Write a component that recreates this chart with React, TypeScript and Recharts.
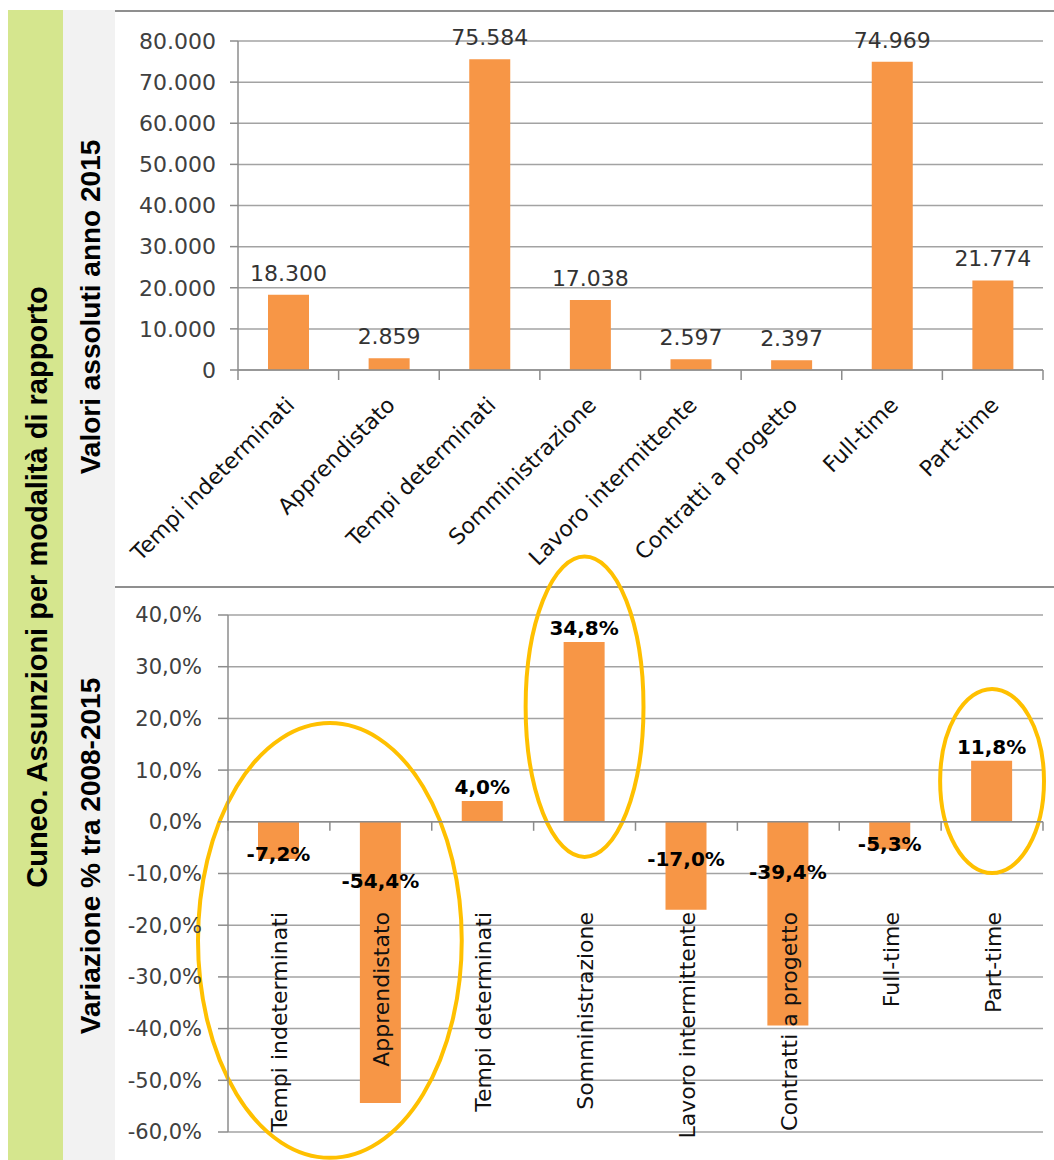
import React from 'react';
import {
  BarChart,
  Bar,
  XAxis,
  YAxis,
  CartesianGrid,
  LabelList,
  ReferenceLine,
  ReferenceArea,
} from 'recharts';

// ---------- DATA ----------
const categories = [
  'Tempi indeterminati',
  'Apprendistato',
  'Tempi determinati',
  'Somministrazione',
  'Lavoro intermittente',
  'Contratti a progetto',
  'Full-time',
  'Part-time',
];
const valori2015 = [18300, 2859, 75584, 17038, 2597, 2397, 74969, 21774];
const variazione = [-7.2, -54.4, 4.0, 34.8, -17.0, -39.4, -5.3, 11.8];
const ticksValori = [0, 10000, 20000, 30000, 40000, 50000, 60000, 70000, 80000];
const ticksVariazione = [-60, -50, -40, -30, -20, -10, 0, 10, 20, 30, 40];

const titolo = 'Cuneo. Assunzioni per modalità di rapporto';
const titoloTop = 'Valori assoluti anno 2015';
const titoloBottom = 'Variazione % tra 2008-2015';

// highlighted groups (yellow ellipses), in data units
const evidenziati = [
  { x1: 'Tempi indeterminati', x2: 'Apprendistato', y1: -65, y2: 19.1, pad: 30 },
  { x1: 'Somministrazione', x2: 'Somministrazione', y1: -6.8, y2: 51.3, pad: 8 },
  { x1: 'Part-time', x2: 'Part-time', y1: -9.9, y2: 25.7, pad: 1 },
];

const topData = categories.map((name, i) => ({ name, value: valori2015[i] }));
const botData = categories.map((name, i) => ({ name, value: variazione[i] }));

// ---------- STYLE ----------
const ORANGE = '#F79646';
const GRID = '#a3a3a3';
const AXIS = '#8c8c8c';
const FONT = '"DejaVu Sans", sans-serif';
const TITLE_FONT = '"Liberation Sans", Arial, sans-serif';

const fmtThousands = (v: number) =>
  String(Math.round(v)).replace(/\B(?=(\d{3})+(?!\d))/g, '.');
const fmtPct = (v: number) => v.toFixed(1).replace('.', ',') + '%';

// zero axis line with tick marks between categories
const ZeroAxis = (props: any) => {
  const { x1, y1, x2 } = props;
  const n = categories.length;
  const step = (x2 - x1) / n;
  const marks = [];
  for (let i = 0; i <= n; i++) {
    const x = x1 + i * step;
    marks.push(
      <line key={i} x1={x} x2={x} y1={y1} y2={y1 + props.tickLen} stroke={AXIS} strokeWidth={1.5} />
    );
  }
  return (
    <g>
      <line x1={x1} x2={x2} y1={y1} y2={y1} stroke={AXIS} strokeWidth={1.5} />
      {marks}
    </g>
  );
};

const TopTick = (props: any) => {
  const { x, y, payload } = props;
  const ax = x + 2;
  const ay = y + 31;
  return (
    <text
      x={ax}
      y={ay}
      dy="0.35em"
      textAnchor="end"
      transform={`rotate(-45, ${ax}, ${ay})`}
      fill="#111"
      fontSize={22}
      fontFamily={FONT}
    >
      {payload.value}
    </text>
  );
};

const BottomTick = (props: any) => {
  const { x, y, payload } = props;
  const ax = x + 1;
  const ay = y - 220;
  return (
    <text
      x={ax}
      y={ay}
      textAnchor="end"
      dominantBaseline="central"
      transform={`rotate(-90, ${ax}, ${ay})`}
      fill="#111"
      fontSize={22}
      fontFamily={FONT}
    >
      {payload.value}
    </text>
  );
};

const PctLabel = (props: any) => {
  const vb = props.viewBox || props;
  const x = vb.x ?? props.x;
  const y = vb.y ?? props.y;
  const width = vb.width ?? props.width;
  const height = vb.height ?? props.height;
  const value = Number(props.value);
  const top = Math.min(y, y + height);
  const bottom = Math.max(y, y + height);
  const h = bottom - top;
  const cx = x + width / 2;
  let cy;
  if (value >= 0) {
    cy = top - 14;
  } else {
    cy = top + Math.min(h - 5, 28 + 0.11 * h);
  }
  return (
    <text
      x={cx}
      y={cy}
      textAnchor="middle"
      dominantBaseline="central"
      fill="#000"
      fontWeight="bold"
      fontSize={20}
      fontFamily={FONT}
    >
      {fmtPct(value)}
    </text>
  );
};

const EllipseShape = (pad: number) => (props: any) => {
  const { x, y, width, height } = props;
  return (
    <ellipse
      cx={x + width / 2}
      cy={y + height / 2}
      rx={Math.abs(width) / 2 + pad}
      ry={Math.abs(height) / 2}
      fill="none"
      stroke="#FFC000"
      strokeWidth={4}
    />
  );
};

export default function App() {
  return (
    <div
      style={{
        position: 'absolute',
        left: 0,
        top: 0,
        width: 1054,
        height: 1160,
        background: '#fff',
        overflow: 'hidden',
      }}
    >
      <style>{'.bottom-chart svg{overflow:visible}'}</style>

      {/* left title strips */}
      <svg width={115} height={1160} style={{ position: 'absolute', left: 0, top: 0 }}>
        <rect x={8} y={10} width={55} height={1150} fill="#d5e68e" />
        <rect x={63} y={10} width={52} height={1150} fill="#f2f2f2" />
        <text
          x={47}
          y={587}
          textAnchor="middle"
          transform="rotate(-90, 47, 587)"
          fontFamily={TITLE_FONT}
          fontWeight="bold"
          fontSize={29}
          fill="#000"
        >
          {titolo}
        </text>
        <text
          x={100}
          y={307}
          textAnchor="middle"
          transform="rotate(-90, 100, 307)"
          fontFamily={TITLE_FONT}
          fontWeight="bold"
          fontSize={28}
          fill="#000"
        >
          {titoloTop}
        </text>
        <text
          x={100}
          y={856}
          textAnchor="middle"
          transform="rotate(-90, 100, 856)"
          fontFamily={TITLE_FONT}
          fontWeight="bold"
          fontSize={28}
          fill="#000"
        >
          {titoloBottom}
        </text>
      </svg>

      {/* separators */}
      <div style={{ position: 'absolute', left: 115, top: 10, width: 939, height: 2, background: '#8f8f8f' }} />

      {/* top chart */}
      <div style={{ position: 'absolute', left: 115, top: 10 }}>
        <BarChart
          width={939}
          height={577}
          data={topData}
          margin={{ top: 31, right: 11, bottom: 17, left: 0 }}
        >
          <CartesianGrid vertical={false} stroke={GRID} strokeWidth={1.5} />
          <YAxis
            width={123}
            domain={[0, 80000]}
            ticks={ticksValori}
            interval={0}
            tickFormatter={fmtThousands}
            tickSize={8}
            tickMargin={14}
            axisLine={{ stroke: AXIS, strokeWidth: 1.5 }}
            tickLine={{ stroke: AXIS, strokeWidth: 1.5 }}
            tick={{ fill: '#404040', fontSize: 22, fontFamily: FONT }}
          />
          <Bar dataKey="value" fill={ORANGE} barSize={41} isAnimationActive={false}>
            <LabelList
              dataKey="value"
              position="top"
              offset={14}
              formatter={(v: any) => fmtThousands(Number(v))}
              fill="#333"
              fontSize={22}
              fontFamily={FONT}
            />
          </Bar>
          <XAxis
            dataKey="name"
            height={200}
            interval={0}
            axisLine={false}
            tickLine={false}
            tickSize={0}
            tickMargin={0}
            tick={<TopTick />}
          />
          <ReferenceLine y={0} ifOverflow="visible" shape={(p: any) => <ZeroAxis {...p} tickLen={10} />} />
        </BarChart>
      </div>

      <div style={{ position: 'absolute', left: 115, top: 586, width: 939, height: 2, background: '#8f8f8f' }} />

      {/* bottom chart */}
      <div className="bottom-chart" style={{ position: 'absolute', left: 115, top: 587 }}>
        <BarChart
          width={939}
          height={573}
          data={botData}
          margin={{ top: 28, right: 11, bottom: 0, left: 0 }}
        >
          <CartesianGrid vertical={false} stroke={GRID} strokeWidth={1.5} />
          <YAxis
            width={113}
            domain={[-60, 40]}
            ticks={ticksVariazione}
            interval={0}
            tickFormatter={fmtPct}
            tickSize={10}
            tickMargin={16}
            axisLine={{ stroke: AXIS, strokeWidth: 1.5 }}
            tickLine={{ stroke: AXIS, strokeWidth: 1.5 }}
            tick={{ fill: '#404040', fontSize: 21, fontFamily: FONT }}
          />
          <Bar dataKey="value" fill={ORANGE} barSize={41} isAnimationActive={false}>
            <LabelList dataKey="value" content={<PctLabel />} />
          </Bar>
          <XAxis
            dataKey="name"
            height={28}
            interval={0}
            axisLine={false}
            tickLine={false}
            tickSize={0}
            tickMargin={0}
            tick={<BottomTick />}
          />
          <ReferenceLine y={0} ifOverflow="visible" shape={(p: any) => <ZeroAxis {...p} tickLen={9} />} />
          {evidenziati.map((e, i) => (
            <ReferenceArea
              key={i}
              x1={e.x1}
              x2={e.x2}
              y1={e.y1}
              y2={e.y2}
              ifOverflow="visible"
              shape={EllipseShape(e.pad)}
            />
          ))}
        </BarChart>
      </div>
    </div>
  );
}
